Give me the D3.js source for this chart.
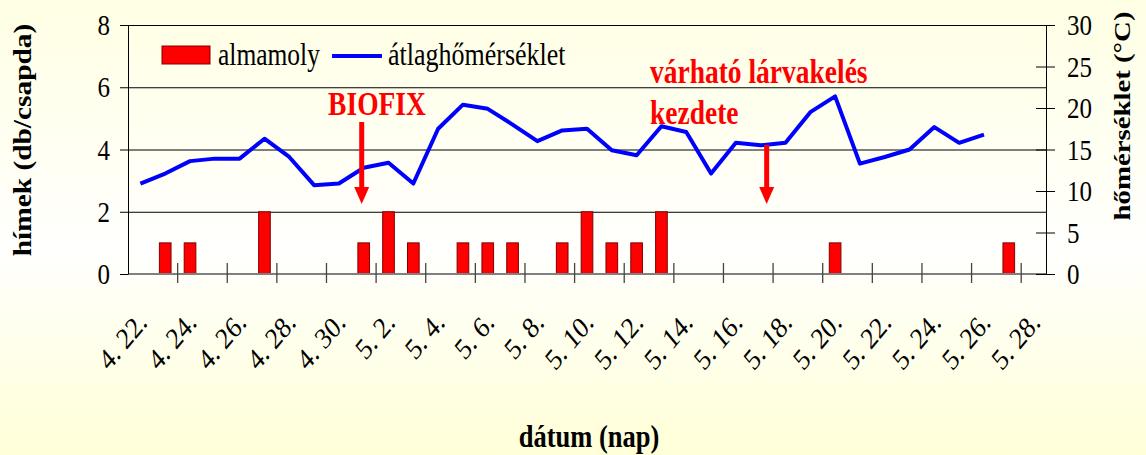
<!DOCTYPE html>
<html>
<head>
<meta charset="utf-8">
<script src="https://cdn.jsdelivr.net/npm/d3@7"></script>
<style>
  body { margin: 0; overflow: hidden; }
</style>
</head>
<body>
<script>
// Data

const dates = [
	'4. 22.', '4. 23.', '4. 24.', '4. 25.', '4. 26.', '4. 27.', '4. 28.', '4. 29.', '4. 30.',
	'5. 1.', '5. 2.', '5. 3.', '5. 4.', '5. 5.', '5. 6.', '5. 7.', '5. 8.', '5. 9.', '5. 10.',
	'5. 11.', '5. 12.', '5. 13.', '5. 14.', '5. 15.', '5. 16.', '5. 17.', '5. 18.', '5. 19.',
	'5. 20.', '5. 21.', '5. 22.', '5. 23.', '5. 24.', '5. 25.', '5. 26.', '5. 27.', '5. 28.',
];

// almamoly (hímek / csapda)
const males = [
	0, 1, 1, 0, 0, 2, 0, 0, 0,
	1, 2, 1, 0, 1, 1, 1, 0, 1, 2,
	1, 1, 2, 0, 0, 0, 0, 0, 0,
	1, 0, 0, 0, 0, 0, 0, 1, 0,
];

// átlaghőmérséklet (°C), 4.22 - 5.26
const temps = [
	10.9, 12.1, 13.6, 13.9, 13.9, 16.3, 14.1, 10.7, 10.9,
	12.8, 13.4, 10.9, 17.5, 20.4, 19.9, 18.0, 16.0, 17.3, 17.5,
	14.9, 14.3, 17.8, 17.1, 12.1, 15.8, 15.5, 15.8, 19.5,
	21.4, 13.3, 14.1, 15.0, 17.7, 15.8, 16.8,
];

const countTicks = [0, 2, 4, 6, 8];
const tempTicks = [0, 5, 10, 15, 20, 25, 30];
const labelDates = dates.filter((d, i) => i % 2 === 0);

// Constants

const width = 1146;
const height = 455;
const plot = { left: 128, right: 1046, top: 25, bottom: 274 };
const sy = 1.2; // the source text is stretched vertically
const serif = '"Liberation Serif", "Times New Roman", serif';
const pad = 0.53;

// Scales

const x = d3
	.scaleBand()
	.domain(dates)
	.range([plot.left, plot.right])
	.paddingInner(pad)
	.paddingOuter(pad / 2);
const cx = (d) => x(d) + x.bandwidth() / 2;
const edge = (d) => x(d) - (x.step() * pad) / 2;

const yL = d3.scaleLinear().domain([0, 8]).range([plot.bottom, plot.top]);
const yR = d3.scaleLinear().domain([0, 30]).range([plot.bottom, plot.top]);

// Svg

const svg = d3
	.select('body')
	.append('svg')
	.attr('width', width)
	.attr('height', height)
	.attr('font-family', serif);

const grad = svg
	.append('defs')
	.append('linearGradient')
	.attr('id', 'bg')
	.attr('x1', 0)
	.attr('y1', 0)
	.attr('x2', 0)
	.attr('y2', 1);
grad.append('stop').attr('offset', 0).attr('stop-color', '#ffffe4');
grad.append('stop').attr('offset', 0.55).attr('stop-color', '#fffffd');
grad.append('stop').attr('offset', 1).attr('stop-color', '#ffffd8');

svg.append('rect').attr('width', width).attr('height', height).attr('fill', 'url(#bg)');

const text = (g, px, py, str, size, rot) =>
	g
		.append('text')
		.attr('transform', `translate(${px},${py}) scale(1,${sy})` + (rot ? ` rotate(${rot})` : ''))
		.attr('font-size', size)
		.text(str);

// Grid

svg
	.append('g')
	.attr('stroke', '#000')
	.attr('stroke-width', 1)
	.selectAll('line')
	.data(countTicks.filter((d) => d > 0))
	.join('line')
	.attr('x1', plot.left)
	.attr('x2', plot.right)
	.attr('y1', (d) => yL(d) + 0.5)
	.attr('y2', (d) => yL(d) + 0.5);

// Bars

svg
	.append('g')
	.attr('fill', '#ff0000')
	.attr('stroke', '#800000')
	.attr('stroke-width', 1)
	.selectAll('rect')
	.data(dates.map((d, i) => ({ d, v: males[i] })).filter((e) => e.v > 0))
	.join('rect')
	.attr('x', (e) => x(e.d))
	.attr('y', (e) => yL(e.v))
	.attr('width', x.bandwidth())
	.attr('height', (e) => yL(0) - yL(e.v));

// X axis

const xAxis = svg
	.append('g')
	.attr('transform', `translate(0,${plot.bottom})`)
	.call(d3.axisBottom(x).tickValues(labelDates).tickSize(0))
	.call((g) => g.select('.domain').remove());

xAxis
	.selectAll('.tick text')
	.attr('x', 0)
	.attr('y', 0)
	.attr('dy', 0)
	.attr('text-anchor', 'end')
	.attr('font-family', serif)
	.attr('font-size', 25)
	.attr('fill', '#000')
	.attr('transform', `translate(8,50) scale(1,${sy}) rotate(-45)`);

xAxis
	.append('line')
	.attr('x1', plot.left)
	.attr('x2', plot.right)
	.attr('stroke', '#808080')
	.attr('stroke-width', 2);

xAxis
	.append('g')
	.attr('stroke', '#444')
	.attr('stroke-width', 1.3)
	.selectAll('line')
	.data(dates.filter((d, i) => i > 0 && i % 2 === 0))
	.join('line')
	.attr('x1', (d) => edge(d))
	.attr('x2', (d) => edge(d))
	.attr('y1', -11)
	.attr('y2', 9);

// Y axes

const yAxisL = svg
	.append('g')
	.attr('transform', `translate(${plot.left},0)`)
	.call(d3.axisLeft(yL).tickValues(countTicks).tickSize(8).tickSizeOuter(0).tickPadding(10));

const yAxisR = svg
	.append('g')
	.attr('transform', `translate(${plot.right},0)`)
	.call(d3.axisRight(yR).tickValues(tempTicks).tickSize(9).tickSizeOuter(0).tickPadding(12));

yAxisR.selectAll('.tick line').attr('x1', -10);

[yAxisL, yAxisR].forEach((g) => {
	g.selectAll('.domain, .tick line').attr('stroke', '#000');
	g.selectAll('.tick text')
		.attr('font-family', serif)
		.attr('font-size', 25)
		.attr('fill', '#000')
		.attr('transform', `scale(1,${sy})`);
});

// Temperature line

svg
	.append('path')
	.datum(temps)
	.attr('fill', 'none')
	.attr('stroke', '#0000ff')
	.attr('stroke-width', 4)
	.attr('stroke-linejoin', 'round')
	.attr('d', d3.line().x((d, i) => cx(dates[i])).y((d) => yR(d)));

// Annotations

const arrow = (px, top, tip) => {
	const g = svg.append('g').attr('fill', '#ff0000');
	g.append('rect').attr('x', px - 2.5).attr('y', top).attr('width', 5).attr('height', tip - 17 - top);
	g.append('path').attr('d', `M${px - 7.5},${tip - 17}L${px + 7.5},${tip - 17}L${px},${tip}Z`);
};

const notes = svg.append('g').attr('fill', '#ff0000').attr('font-weight', 'bold');
text(notes, 377, 115, 'BIOFIX', 27.5).attr('text-anchor', 'middle');
text(notes, 650, 83, 'várható lárvakelés', 27.5);
text(notes, 650, 124, 'kezdete', 27.5);

arrow(cx('5. 1.') - 2, 122, 204);
arrow(cx('5. 17.') + 6, 145, 204);

// Legend

const legend = svg.append('g');
legend
	.append('rect')
	.attr('x', 162)
	.attr('y', 46)
	.attr('width', 48)
	.attr('height', 18)
	.attr('fill', '#ff0000')
	.attr('stroke', '#800000');
text(legend, 218, 65, 'almamoly', 25.5);
legend
	.append('line')
	.attr('x1', 332)
	.attr('x2', 382)
	.attr('y1', 56)
	.attr('y2', 56)
	.attr('stroke', '#0000ff')
	.attr('stroke-width', 4);
text(legend, 388, 65, 'átlaghőmérséklet', 26);

// Axis titles

const titles = svg.append('g').attr('font-weight', 'bold').attr('text-anchor', 'middle');
text(titles, 31, 140, 'hímek (db/csapda)', 24.5, -90);
text(titles, 1130, 116, 'hőmérséklet (°C)', 24, -90);
text(titles, 589, 447, 'dátum (nap)', 26.5);
</script>
</body>
</html>
